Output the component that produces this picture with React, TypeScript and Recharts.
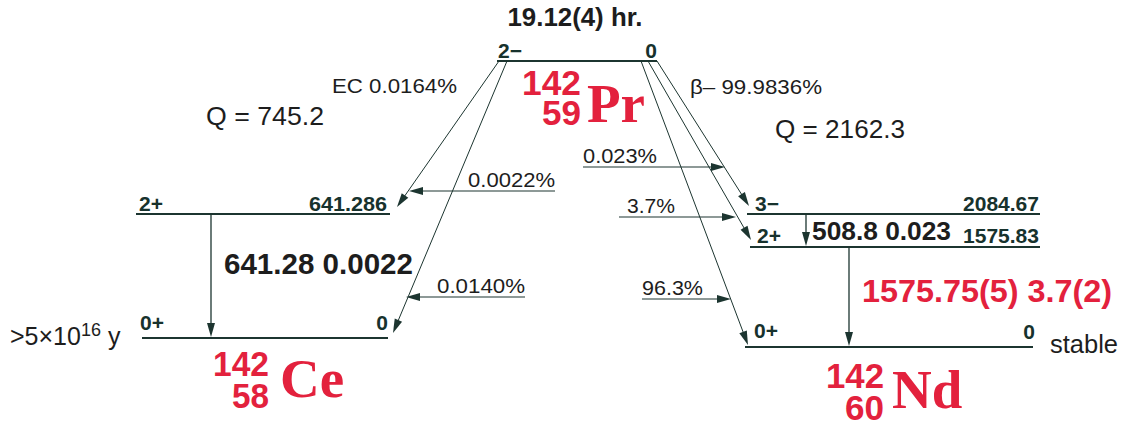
import React from 'react';
import { ComposedChart, XAxis, YAxis, Scatter, ReferenceLine } from 'recharts';

// decay data
const parent = { mass: '142', z: '59', symbol: 'Pr', halfLife: '19.12(4) hr.', spin: '2−', energy: '0' };
const ceNuclide = { mass: '142', z: '58', symbol: 'Ce', base: '>5×10', exp: '16', unit: ' y' };
const ndNuclide = { mass: '142', z: '60', symbol: 'Nd', halfLife: 'stable' };
const ecSummary = { branch: 'EC  0.0164%', q: 'Q = 745.2' };
const betaSummary = { branch: 'β– 99.9836%', q: 'Q = 2162.3' };

const ceSpins = ['2+', '0+'];
const ceEnergies = ['641.286', '0'];
const ecFeeding = ['0.0022%', '0.0140%'];
const ceGammas = [{ label: '641.28 0.0022', from: 0, to: 1 }];

const ndSpins = ['3−', '2+', '0+'];
const ndEnergies = ['2084.67', '1575.83', '0'];
const betaFeeding = ['0.023%', '3.7%', '96.3%'];
const ndGammas = [
  { label: '508.8 0.023', from: 0, to: 1 },
  { label: '1575.75(5) 3.7(2)', from: 1, to: 2 },
];

// layout of the scheme (chart units = px)
const W = 1129;
const H = 426;
const PR = { x1: 497, x2: 657, y: 61 };
const CE = [{ x1: 136, x2: 390, y: 214 }, { x1: 142, x2: 388, y: 338 }];
const ND = [{ x1: 747, x2: 1040, y: 214 }, { x1: 750, x2: 1040, y: 247 }, { x1: 745, x2: 1033, y: 347 }];
const ecStarts = [499, 507];
const ecTips = [{ x: 397, y: 207 }, { x: 393, y: 333 }];
const ecFeedArrows = [{ from: 555, to: 409, y: 191 }, { from: 525, to: 406, y: 297 }];
const betaStarts = [657, 648, 641];
const betaTips = [{ x: 749, y: 206 }, { x: 751, y: 240 }, { x: 748, y: 345 }];
const betaFeedArrows = [{ from: 583, to: 725, y: 167 }, { from: 619, to: 736, y: 217 }, { from: 642, to: 731, y: 299 }];
const ceGammaX = [211];
const ndGammaX = [806, 849];

const LINE = '#1c3530';
const TEXT = '#1d1d1d';
const LEVEL_TXT = '#17322d';
const RED = '#e3213d';
const SANS = '"Liberation Sans", Arial, Helvetica, sans-serif';
const SERIF = '"Liberation Serif", "Times New Roman", serif';

type T = {
  x: number; y: number; text: string; size: number; bold?: boolean; anchor?: string;
  color?: string; w?: number; sup?: string; unit?: string;
};

const levelLabel = (x: number, y: number, text: string, anchor = 'start', w?: number): T => ({
  x, y, text, size: 21, bold: true, anchor, color: LEVEL_TXT, w,
});

const texts: T[] = [
  { x: 575, y: 26, text: parent.halfLife, size: 26, bold: true, anchor: 'middle', w: 135 },
  levelLabel(498, 58, parent.spin),
  levelLabel(657, 58, parent.energy, 'end'),
  { x: 332, y: 93, text: ecSummary.branch, size: 21, w: 125 },
  { x: 206, y: 125, text: ecSummary.q, size: 26, w: 118 },
  { x: 690, y: 94, text: betaSummary.branch, size: 21, w: 132 },
  { x: 775, y: 138, text: betaSummary.q, size: 26, w: 130 },
  levelLabel(139, 211, ceSpins[0]),
  levelLabel(387, 211, ceEnergies[0], 'end', 78),
  levelLabel(140, 330, ceSpins[1]),
  levelLabel(388, 330, ceEnergies[1], 'end'),
  { x: ecFeedArrows[0].from, y: ecFeedArrows[0].y - 4, text: ecFeeding[0], size: 21, anchor: 'end', w: 87 },
  { x: ecFeedArrows[1].from, y: ecFeedArrows[1].y - 4, text: ecFeeding[1], size: 21, anchor: 'end', w: 88 },
  { x: 224, y: 274, text: ceGammas[0].label, size: 30, bold: true, w: 189 },
  { x: 10, y: 345, text: ceNuclide.base, sup: ceNuclide.exp, unit: ceNuclide.unit, size: 25, w: 117 },
  levelLabel(755, 211, ndSpins[0]),
  levelLabel(1039, 211, ndEnergies[0], 'end', 76),
  levelLabel(757, 243, ndSpins[1]),
  levelLabel(1039, 243, ndEnergies[1], 'end', 76),
  levelLabel(754, 338, ndSpins[2]),
  levelLabel(1035, 339, ndEnergies[2], 'end'),
  { x: betaFeedArrows[0].from, y: 163, text: betaFeeding[0], size: 21, w: 74 },
  { x: 627, y: 213, text: betaFeeding[1], size: 21, w: 48 },
  { x: betaFeedArrows[2].from, y: 295, text: betaFeeding[2], size: 21, w: 61 },
  { x: 812, y: 240, text: ndGammas[0].label, size: 25, bold: true, w: 139 },
  { x: 862, y: 302, text: ndGammas[1].label, size: 31, bold: true, color: RED, w: 250 },
  { x: 1050, y: 353, text: ndNuclide.halfLife, size: 25, w: 68 },
];

const nuclides = [
  { x: 581, y: 95, mass: parent.mass, z: parent.z, symbol: parent.symbol, mw: 59, zw: 39, gap: 30, sx: 6, sy: 27, sym: 55 },
  { x: 269, y: 376, mass: ceNuclide.mass, z: ceNuclide.z, symbol: ceNuclide.symbol, mw: 56, zw: 37, gap: 32, sx: 11, sy: 21, sym: 55 },
  { x: 884, y: 388, mass: ndNuclide.mass, z: ndNuclide.z, symbol: ndNuclide.symbol, mw: 58, zw: 39, gap: 32, sx: 8, sy: 20, sym: 55 },
];

const renderText = (p: any) => {
  const d: T = p.payload;
  const style = { fontFamily: SANS, fontSize: d.size, fontWeight: d.bold ? 700 : 400 };
  if (d.sup) {
    return (
      <text x={p.cx} y={p.cy} fill={d.color || TEXT} style={style}>
        {d.text}
        <tspan dy={-9} fontSize={d.size * 0.72}>
          {d.sup}
        </tspan>
        <tspan dy={9}>{d.unit}</tspan>
      </text>
    );
  }
  return (
    <text
      x={p.cx}
      y={p.cy}
      textAnchor={d.anchor || 'start'}
      fill={d.color || TEXT}
      style={style}
      textLength={d.w}
      lengthAdjust={d.w ? 'spacingAndGlyphs' : undefined}
    >
      {d.text}
    </text>
  );
};

const renderNuclide = (p: any) => {
  const d = p.payload;
  const numStyle = { fontFamily: SANS, fontWeight: 700, fontSize: 35 };
  return (
    <g fill={RED}>
      <text textAnchor="end" style={numStyle}>
        <tspan x={p.cx} y={p.cy} textLength={d.mw} lengthAdjust="spacingAndGlyphs">{d.mass}</tspan>
        <tspan x={p.cx} y={p.cy + d.gap} textLength={d.zw} lengthAdjust="spacingAndGlyphs">{d.z}</tspan>
      </text>
      <text x={p.cx + d.sx} y={p.cy + d.sy} style={{ fontFamily: SERIF, fontWeight: 700, fontSize: d.sym }}>
        {d.symbol}
      </text>
    </g>
  );
};

const arrow = (width = 1) => (p: any) => {
  const { x1, y1, x2, y2 } = p;
  const dx = x2 - x1;
  const dy = y2 - y1;
  const len = Math.sqrt(dx * dx + dy * dy) || 1;
  const ux = dx / len;
  const uy = dy / len;
  const L = 14;
  const hw = 4;
  const bx = x2 - ux * L;
  const by = y2 - uy * L;
  return (
    <g>
      <line x1={x1} y1={y1} x2={bx + ux * 2} y2={by + uy * 2} stroke={LINE} strokeWidth={width} />
      <polygon points={`${x2},${y2} ${bx - uy * hw},${by + ux * hw} ${bx + uy * hw},${by - ux * hw}`} fill={LINE} />
    </g>
  );
};

const seg = (x1: number, y1: number, x2: number, y2: number) => [
  { x: x1, y: y1 },
  { x: x2, y: y2 },
];

export default function App() {
  return (
    <div style={{ width: W, height: H, background: '#fff' }}>
      <style>{'body{margin:0}'}</style>
      <ComposedChart width={W} height={H} margin={{ top: 0, right: 0, bottom: 0, left: 0 }}>
        <XAxis type="number" dataKey="x" domain={[0, W]} hide allowDataOverflow />
        <YAxis type="number" dataKey="y" domain={[0, H]} reversed hide allowDataOverflow />

        {/* levels */}
        {[PR, ...CE, ...ND].map((l, i) => (
          <ReferenceLine key={`lv${i}`} segment={seg(l.x1, l.y, l.x2, l.y)} stroke={LINE} strokeWidth={2} ifOverflow="visible" />
        ))}

        {/* EC and beta branches */}
        {ecTips.map((t, i) => (
          <ReferenceLine key={`ec${i}`} segment={seg(ecStarts[i], PR.y, t.x, t.y)} shape={arrow(1)} ifOverflow="visible" />
        ))}
        {betaTips.map((t, i) => (
          <ReferenceLine key={`b${i}`} segment={seg(betaStarts[i], PR.y, t.x, t.y)} shape={arrow(1)} ifOverflow="visible" />
        ))}
        {[...ecFeedArrows, ...betaFeedArrows].map((a, i) => (
          <ReferenceLine key={`fd${i}`} segment={seg(a.from, a.y, a.to, a.y)} shape={arrow(1.2)} ifOverflow="visible" />
        ))}

        {/* gamma transitions */}
        {ceGammas.map((g, i) => (
          <ReferenceLine
            key={`cg${i}`}
            segment={seg(ceGammaX[i], CE[g.from].y, ceGammaX[i], CE[g.to].y - 1)}
            shape={arrow(1.3)}
            ifOverflow="visible"
          />
        ))}
        {ndGammas.map((g, i) => (
          <ReferenceLine
            key={`ng${i}`}
            segment={seg(ndGammaX[i], ND[g.from].y, ndGammaX[i], ND[g.to].y - 1)}
            shape={arrow(1.3)}
            ifOverflow="visible"
          />
        ))}

        <Scatter data={texts} dataKey="y" shape={renderText} isAnimationActive={false} />
        <Scatter data={nuclides} dataKey="y" shape={renderNuclide} isAnimationActive={false} />
      </ComposedChart>
    </div>
  );
}
